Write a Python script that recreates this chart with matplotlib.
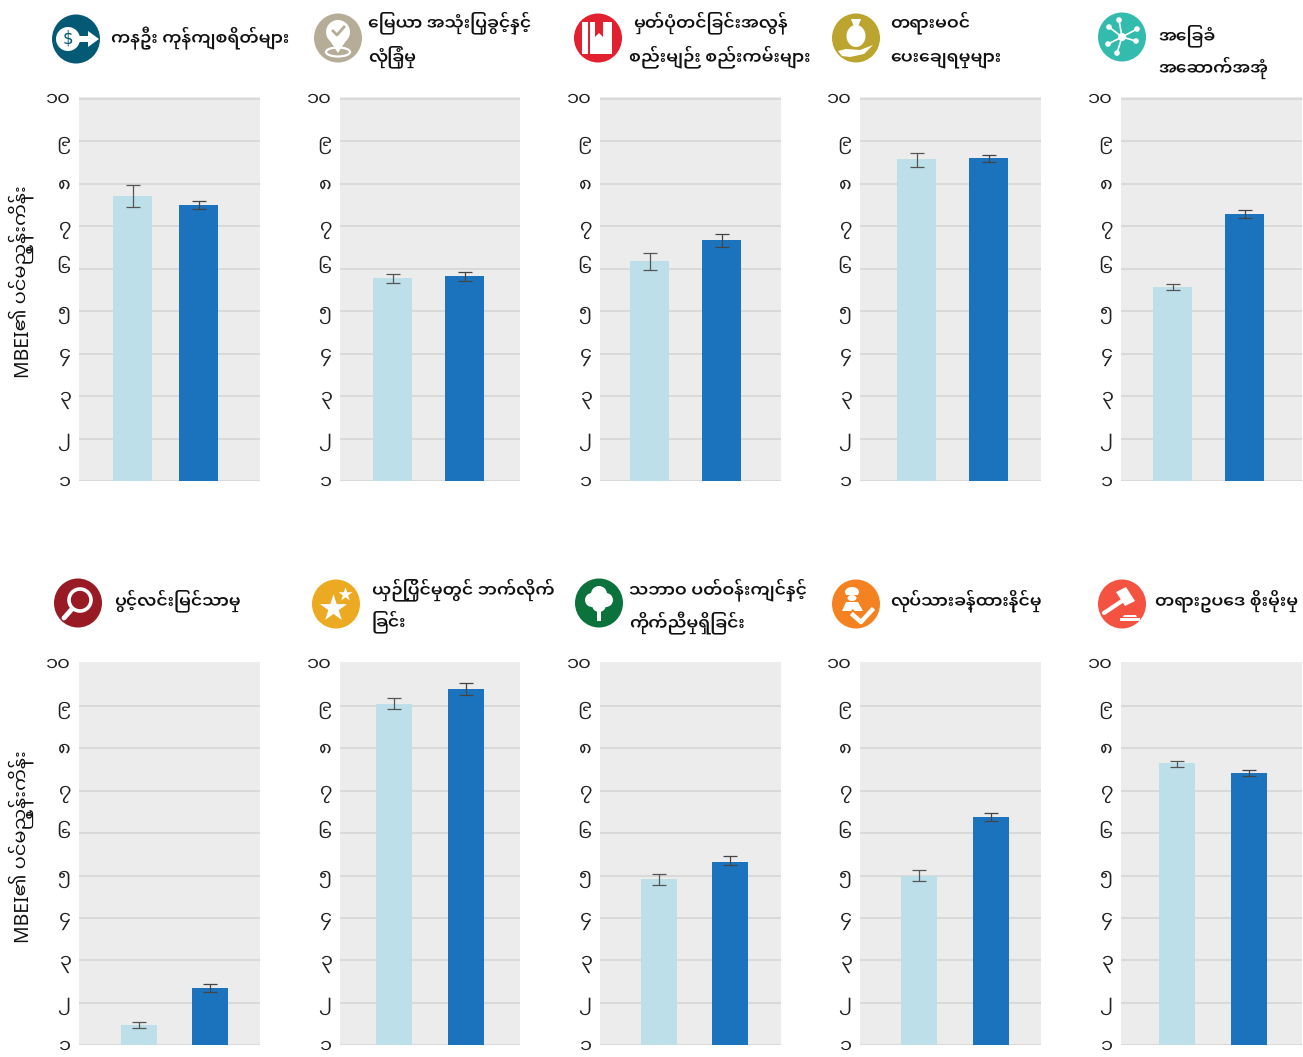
import re
import matplotlib
matplotlib.use("Agg")
import matplotlib.pyplot as plt
from matplotlib.patches import Circle, Polygon, Rectangle, Ellipse

W, H = 1303, 1057

tick_values = [1, 2, 3, 4, 5, 6, 7, 8, 9, 10]
tick_labels = ["၁", "၂", "၃", "၄", "၅", "၆", "၇", "၈", "၉", "၁၀"]
ylabel = "MBEI၏ ပင်မညွှန်းကိန်း"

titles = [
    ["ကနဦး ကုန်ကျစရိတ်များ"],
    ["မြေယာ အသုံးပြုခွင့်နှင့်", "လုံခြုံမှု"],
    ["မှတ်ပုံတင်ခြင်းအလွန်", "စည်းမျဉ်း စည်းကမ်းများ"],
    ["တရားမဝင်", "ပေးချေရမှုများ"],
    ["အခြေခံ", "အဆောက်အအုံ"],
    ["ပွင့်လင်းမြင်သာမှု"],
    ["ယှဉ်ပြိုင်မှုတွင် ဘက်လိုက်", "ခြင်း"],
    ["သဘာဝ ပတ်ဝန်းကျင်နှင့်", "ကိုက်ညီမှုရှိခြင်း"],
    ["လုပ်သားခန့်ထားနိုင်မှု"],
    ["တရားဥပဒေ စိုးမိုးမှု"],
]

light_values = [7.70, 5.77, 6.17, 8.57, 5.56, 1.47, 9.05, 4.91, 5.00, 7.65]
light_low = [7.44, 5.65, 5.96, 8.40, 5.49, 1.40, 8.92, 4.77, 4.88, 7.55]
light_high = [7.97, 5.88, 6.36, 8.71, 5.63, 1.54, 9.18, 5.03, 5.12, 7.71]
dark_values = [7.49, 5.82, 6.68, 8.61, 7.29, 2.34, 9.41, 5.33, 6.37, 7.41]
dark_low = [7.41, 5.72, 6.52, 8.52, 7.18, 2.25, 9.25, 5.24, 6.28, 7.34]
dark_high = [7.58, 5.91, 6.82, 8.68, 7.39, 2.44, 9.55, 5.45, 6.47, 7.50]

# layout in pixels, kept apart from the data
ax_left = [79, 340, 600, 860, 1121] * 2
ax_right = [260, 520, 781, 1041, 1302] * 2
ax_top = [97] * 5 + [662] * 5
ax_bottom = [481] * 5 + [1045] * 5
bar_a = [132.5, 392.5, 649.5, 916.5, 1172.5, 139, 394, 659, 919, 1177]
bar_b = [198.5, 464.5, 721.5, 988.5, 1244.5, 210, 466, 730, 991, 1249]
bar_w = [39] * 5 + [36] * 5
icon_x = [76, 338, 598, 856, 1122, 78, 336, 599, 856, 1122]
icon_y = [39, 38, 38, 38, 37, 603, 604, 603, 604, 604]
icon_col = ["#045a75", "#b5ad98", "#e3202f", "#bca52e", "#33bcae",
            "#971a24", "#ebaa22", "#0b723b", "#f58220", "#f45341"]
title_x = [[111], [368, 368], [633, 629], [890, 890], [1158, 1158],
           [114], [372, 372], [629, 629], [890], [1155]]
title_y = [[38], [23, 57], [23, 57], [23, 59], [36, 68],
           [601], [590, 622], [590, 623], [601], [601]]

plt.rcParams["font.family"] = ["Noto Sans Myanmar UI", "Noto Sans", "DejaVu Sans"]

LIGHT = "#bddfea"
DARK = "#1c73bd"
BG = "#ececec"
GRID = "#d9d9d9"


def visual(s):
    # matplotlib does no shaping, so the prefixed vowel and medial ra go before the consonant
    def fix(m):
        base, marks = m.group(1), m.group(2)
        pre = ""
        for ch in "\u1031\u103c":
            if ch in marks:
                pre += ch
                marks = marks.replace(ch, "")
        return pre + base + marks
    return re.sub("([\u1000-\u1021])([\u102b-\u103e]*)", fix, s)


fig = plt.figure(figsize=(W / 100, H / 100), dpi=100, facecolor="white")

for i in range(10):
    ax = fig.add_axes([ax_left[i] / W, 1 - ax_bottom[i] / H,
                       (ax_right[i] - ax_left[i]) / W, (ax_bottom[i] - ax_top[i]) / H])
    ax.set_facecolor(BG)
    sep = bar_b[i] - bar_a[i]
    ax.set_xlim(-(bar_a[i] - ax_left[i]) / sep, 1 + (ax_right[i] - bar_b[i]) / sep)
    ax.set_ylim(1, 10.04)
    ax.set_yticks(tick_values)
    ax.set_yticklabels(tick_labels, fontsize=14, color="#222222")
    ax.set_xticks([])
    ax.tick_params(axis="y", length=0, pad=6)
    for s in ax.spines.values():
        s.set_visible(False)
    ax.grid(axis="y", color=GRID, lw=1.4)
    ax.set_axisbelow(True)
    if i >= 5:
        ax.get_ygridlines()[-1].set_visible(False)
    w = bar_w[i] / sep
    ax.bar([0], [light_values[i] - 1], bottom=1, width=w, color=LIGHT, zorder=2)
    ax.bar([1], [dark_values[i] - 1], bottom=1, width=w, color=DARK, zorder=2)
    ax.errorbar([0], [light_values[i]],
                yerr=[[light_values[i] - light_low[i]], [light_high[i] - light_values[i]]],
                color="#555555", lw=0.9, capsize=5, capthick=0.9, zorder=3)
    ax.errorbar([1], [dark_values[i]],
                yerr=[[dark_values[i] - dark_low[i]], [dark_high[i] - dark_values[i]]],
                color="#444444", lw=0.9, capsize=5, capthick=0.9, zorder=3)

# pixel overlay for icons and headings
ov = fig.add_axes([0, 0, 1, 1], zorder=5)
ov.set_xlim(0, W)
ov.set_ylim(H, 0)
ov.axis("off")


def draw_icon(i, cx, cy):
    col = icon_col[i]
    ov.add_patch(Ellipse((cx, cy), 48, 49, color=col, lw=0))
    wh = "white"
    if i == 0:
        ov.add_patch(Circle((cx - 8, cy), 12, color=wh, lw=0))
        ov.add_patch(Polygon([(cx, cy - 3), (cx + 12, cy - 3), (cx + 12, cy - 8), (cx + 23, cy),
                              (cx + 12, cy + 8), (cx + 12, cy + 3), (cx, cy + 3)], color=wh, lw=0))
        ov.text(cx - 8, cy, "$", color=col, fontsize=12, ha="center", va="center",
                family="DejaVu Sans")
    elif i == 1:
        ov.add_patch(Ellipse((cx, cy + 14), 24, 9, fill=False, ec=wh, lw=1.6))
        ov.add_patch(Circle((cx, cy - 6), 12, color=wh, lw=0))
        ov.add_patch(Polygon([(cx - 11, cy - 2), (cx + 11, cy - 2), (cx, cy + 15)], color=wh, lw=0))
        ov.plot([cx - 5, cx - 1, cx + 6], [cy - 7, cy - 3, cy - 11], color=col, lw=2)
    elif i == 2:
        ov.add_patch(Rectangle((cx - 16, cy - 16), 30, 32, color=wh, lw=0))
        ov.add_patch(Rectangle((cx - 10, cy - 16), 2, 32, color=col, lw=0))
        ov.add_patch(Polygon([(cx - 3, cy - 16), (cx + 5, cy - 16), (cx + 5, cy - 1), (cx + 1, cy - 5),
                              (cx - 3, cy - 1)], color=col, lw=0))
    elif i == 3:
        ov.add_patch(Ellipse((cx, cy - 2), 19, 22, color=wh, lw=0))
        ov.add_patch(Polygon([(cx - 5, cy - 19), (cx + 5, cy - 19), (cx + 2, cy - 11), (cx - 2, cy - 11)],
                             color=wh, lw=0))
        ov.add_patch(Polygon([(cx - 18, cy + 13), (cx - 10, cy + 11), (cx + 4, cy + 12), (cx + 17, cy + 7),
                              (cx + 8, cy + 16), (cx - 6, cy + 19), (cx - 14, cy + 18)], color=wh, lw=0))
    elif i == 4:
        for dx, dy in [(-13, -10), (-3, -17), (15, -8), (14, 4), (-14, 7), (-5, 16)]:
            ov.plot([cx, cx + dx], [cy, cy + dy], color=wh, lw=1.2)
            ov.add_patch(Circle((cx + dx, cy + dy), 2.8, color=wh, lw=0))
        ov.add_patch(Circle((cx, cy), 4, color=wh, lw=0))
    elif i == 5:
        ov.add_patch(Circle((cx + 2, cy - 3), 11, fill=False, ec=wh, lw=2.6))
        ov.plot([cx - 14, cx - 6], [cy + 15, cy + 6], color=wh, lw=3.5, solid_capstyle="round")
    elif i == 6:
        ov.scatter([cx - 3], [cy + 4], marker="*", s=420, color=wh, lw=0)
        ov.scatter([cx + 9], [cy - 10], marker="*", s=110, color=wh, lw=0)
    elif i == 7:
        ov.add_patch(Rectangle((cx - 2, cy), 4, 18, color=wh, lw=0))
        for dx, dy, r in [(0, -9, 8), (-7, -3, 7), (7, -3, 7), (0, 2, 7)]:
            ov.add_patch(Circle((cx + dx, cy + dy), r, color=wh, lw=0))
    elif i == 8:
        ov.add_patch(Ellipse((cx - 4, cy - 12), 14, 10, color=wh, lw=0))
        ov.add_patch(Rectangle((cx - 10, cy - 9), 12, 2, color=col, lw=0))
        ov.add_patch(Ellipse((cx - 4, cy - 6), 9, 6, color=wh, lw=0))
        ov.add_patch(Polygon([(cx - 14, cy + 7), (cx - 10, cy - 2), (cx + 2, cy - 2), (cx + 7, cy + 7)],
                             color=wh, lw=0))
        ov.plot([cx - 3, cx + 5, cx + 16], [cy + 11, cy + 18, cy + 6], color=col, lw=6)
        ov.plot([cx - 3, cx + 5, cx + 16], [cy + 11, cy + 18, cy + 6], color=wh, lw=3.2)
    else:
        ov.plot([cx - 18, cx + 3], [cy + 9, cy - 5], color=wh, lw=3, solid_capstyle="round")
        ov.add_patch(Polygon([(cx - 6, cy - 12), (cx + 4, cy - 17), (cx + 13, cy - 3), (cx + 3, cy + 2)],
                             color=wh, lw=0))
        ov.add_patch(Polygon([(cx + 2, cy + 11), (cx + 14, cy + 11), (cx + 15, cy + 13), (cx + 1, cy + 13)],
                             color=wh, lw=0))
        ov.add_patch(Rectangle((cx - 2, cy + 14), 20, 2.5, color=wh, lw=0))


for i in range(10):
    draw_icon(i, icon_x[i], icon_y[i])
    for line, tx, ty in zip(titles[i], title_x[i], title_y[i]):
        ov.text(tx, ty, visual(line), fontsize=12.4, fontweight=600, va="center", ha="left", color="#111111")

for yc in [282, 847]:
    ov.text(21, yc, visual(ylabel), rotation=90, fontsize=14, va="center", ha="center", color="#111111")

fig.savefig("out.png", dpi=100)
